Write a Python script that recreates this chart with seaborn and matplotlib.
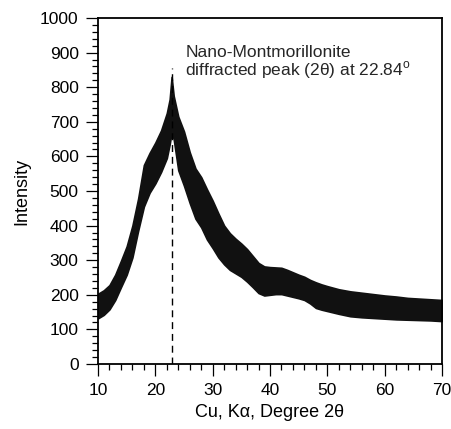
import numpy as np
import pandas as pd
import matplotlib
matplotlib.use("Agg")
import matplotlib.pyplot as plt
from matplotlib.ticker import MultipleLocator
import seaborn as sns

# ---- data (noise envelope of the XRD trace) ----
two_theta = [10, 11, 12, 13, 14, 15, 16, 17, 18, 19, 20, 21, 22, 22.5, 22.84, 23.2,
             24, 25, 26, 27, 28, 29, 30, 31, 32, 33, 34, 35, 36, 37, 38, 39, 40,
             41, 42, 43, 44, 45, 46, 47, 48, 49, 50, 52, 54, 56, 58, 60, 62, 64,
             66, 68, 70]
intensity_low = [132, 142, 158, 185, 222, 258, 308, 385, 455, 495, 522, 555, 595, 635, 670, 650,
                 560, 515, 465, 420, 395, 360, 335, 308, 288, 272, 262, 252, 238, 222, 205, 198, 200,
                 202, 202, 198, 194, 190, 185, 175, 162, 157, 153, 145, 138, 135, 133, 131, 129, 128,
                 127, 126, 124]
intensity_high = [203, 213, 228, 258, 298, 340, 400, 478, 575, 610, 640, 675, 725, 765, 830, 775,
                  715, 672, 612, 565, 540, 505, 472, 435, 400, 378, 362, 348, 332, 312, 292, 282, 280,
                  279, 278, 272, 265, 258, 252, 243, 236, 230, 225, 216, 210, 206, 202, 198, 195, 191,
                  189, 187, 185]
peak_position = 22.84
peak_marker_top = 855
x_ticks = [10, 20, 30, 40, 50, 60, 70]
y_ticks = [0, 100, 200, 300, 400, 500, 600, 700, 800, 900, 1000]
annotation_lines = ["Nano-Montmorillonite", "diffracted peak (2\u03b8) at 22.84$^{\\rm o}$"]

df = pd.DataFrame({
    "two_theta": two_theta + two_theta,
    "intensity": intensity_low + intensity_high,
})

sns.set_theme(style="ticks")
plt.rcParams["font.family"] = ["Liberation Sans", "DejaVu Sans"]
plt.rcParams["mathtext.fontset"] = "custom"
plt.rcParams["mathtext.rm"] = "Liberation Sans"

fig = plt.figure(figsize=(4.52, 4.29), dpi=100)
ax = fig.add_axes([98 / 452, 1 - 364 / 429, 344 / 452, 346 / 429])

trace_color = "#111111"
sns.lineplot(data=df, x="two_theta", y="intensity", estimator="mean",
             errorbar=("pi", 100), color=trace_color, lw=0.6,
             err_kws={"alpha": 1.0, "linewidth": 1.2, "edgecolor": trace_color}, ax=ax)

ax.plot([peak_position, peak_position], [0, peak_marker_top], color="black",
        lw=1.0, linestyle=(0, (5, 3.5)))

ax.text(25.2, 887, annotation_lines[0], fontsize=12.5, va="baseline", ha="left")
ax.text(25.2, 835, annotation_lines[1], fontsize=12.5, va="baseline", ha="left")

ax.set_xlim(10, 70)
ax.set_ylim(0, 1000)
ax.set_xticks(x_ticks)
ax.set_yticks(y_ticks)
ax.xaxis.set_minor_locator(MultipleLocator(2))
ax.yaxis.set_minor_locator(MultipleLocator(20))
ax.tick_params(which="major", direction="out", length=8.4, width=0.9,
               labelsize=12.5, pad=5.5, color="black", labelcolor="black")
ax.tick_params(which="minor", direction="out", length=4.3, width=0.9, color="black")
ax.tick_params(top=False, right=False, which="both")
for s in ax.spines.values():
    s.set_visible(True)
    s.set_linewidth(1.3)
    s.set_color("black")
    s.set_zorder(5)

ax.set_xlabel("Cu, K\u03b1, Degree 2\u03b8", fontsize=13, labelpad=4, color="black")
ax.set_ylabel("Intensity", fontsize=13, labelpad=7, color="black")

fig.savefig("out.png", dpi=100)
